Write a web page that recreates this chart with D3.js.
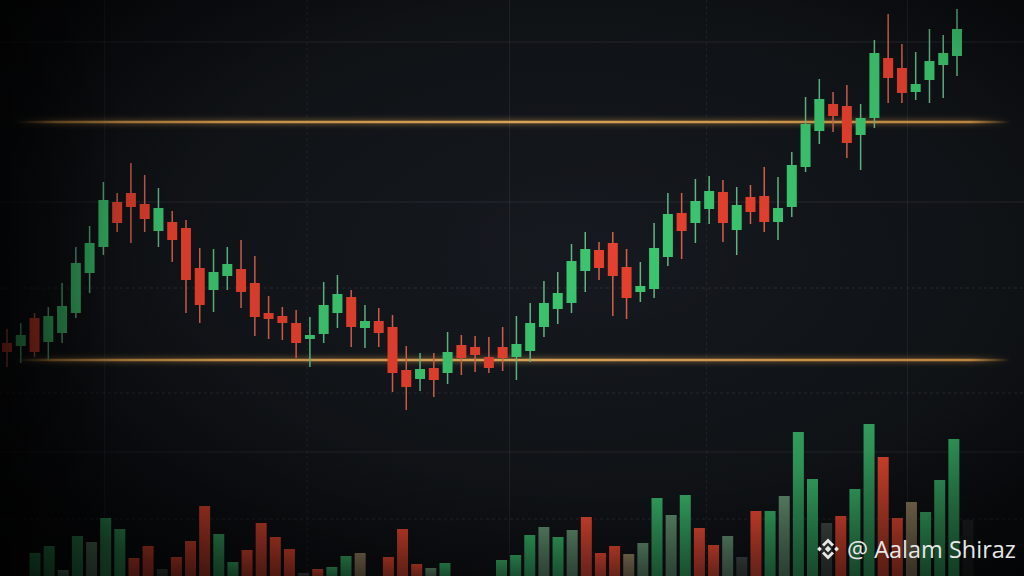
<!DOCTYPE html>
<html><head><meta charset="utf-8">
<script src="https://cdn.jsdelivr.net/npm/d3@7"></script>
<style>html,body{margin:0;padding:0;background:#0f1216;overflow:hidden}</style>
</head><body><svg id="c" width="1024" height="576"></svg>
<script>
// ---- DATA ----
const candleOpen  = [77,74,102,78,87,107,147,173,218,227,216,189,198,192,152,130,144,151,137,107,104,97,81,86,107,123,92,99,93,50,41,52,47,75,73,63,73,63,69,93,111,117,149,170,177,153,128,131,163,207,197,211,228,190,223,224,198,213,253,289,316,314,285,302,362,352,328,340,355,364];
const candleClose = [68,85,68,104,114,157,177,220,197,213,201,212,180,140,115,148,156,128,103,101,97,77,85,115,126,93,99,87,47,33,51,40,68,62,65,52,62,76,97,117,127,159,171,152,144,122,134,172,206,189,219,229,197,215,208,198,212,255,296,321,304,277,302,367,342,327,336,359,367,391];
const candleHigh  = [91,97,107,113,137,173,194,238,227,257,245,232,209,200,172,171,173,180,164,124,113,110,103,138,145,130,115,112,105,74,67,67,88,85,84,83,93,104,117,139,148,176,188,178,188,171,158,197,227,227,241,244,240,233,235,253,243,268,323,341,328,335,316,380,406,376,368,391,385,411];
const candleLow   = [53,57,63,60,77,102,127,165,188,177,188,173,158,107,97,108,130,112,84,81,80,62,53,77,92,73,72,73,28,10,29,23,36,45,48,47,49,40,58,83,96,107,128,140,104,101,118,122,154,161,177,196,178,165,196,188,180,203,248,276,288,262,250,292,317,317,320,317,322,344];

const volume     = [23,30,6,40,34,58,47,18,30,7,19,35,70,42,14,26,53,39,27,3,7,9,20,23,null,19,47,12,8,13,null,null,null,16,21,41,49,39,46,59,23,30,22,33,78,61,81,48,31,40,19,65,65,80,144,97,53,60,87,152,119,58,74,64,96,137,56];
const volumeTone = ["g","g","s","g","s","g","g","r","r","k","r","r","r","g","g","r","r","r","r","k","r","g","g","t",null,"r","r","r","s","g",null,null,null,"g","g","g","s","g","s","r","r","r","t","s","g","s","g","r","r","s","k","r","g","s","g","g","k","r","g","g","r","r","t","g","g","g","d"];

const levelPrices     = [298, 60];        // resistance / support
const gridPrices      = [378, 218];
const gridPricesDash  = [132, 27];
const gridVolumes     = [124];
const gridVolumesDash = [57];
const timeGrid        = [7.1, 21.8, 36.5, 50.8, 65.4];
const watermark = "@ Aalam Shiraz";

// ---- DRAW ----
const W = 1024, H = 576;
const svg = d3.select("#c");
const defs = svg.append("defs");

const bg = defs.append("radialGradient").attr("id","bg").attr("cx","0.55").attr("cy","0.45").attr("r","0.75");
bg.append("stop").attr("offset","0").attr("stop-color","#161a20");
bg.append("stop").attr("offset","0.6").attr("stop-color","#101317");
bg.append("stop").attr("offset","1").attr("stop-color","#07080a");
svg.append("rect").attr("width",W).attr("height",H).attr("fill","url(#bg)");

const x  = d3.scaleLinear().domain([0, candleOpen.length-1]).range([7, 957]);
const y  = d3.scaleLinear().domain([20, 420]).range([400, 0]);
const xv = d3.scaleLinear().domain([0, volume.length-1]).range([35, 968]);
const yv = d3.scaleLinear().domain([0, 160]).range([H, H-160]);

const grid = svg.append("g").attr("stroke","#c8d0dc").attr("fill","none");
grid.selectAll(".vg").data(timeGrid).join("line")
  .attr("x1",d=>x(d)).attr("x2",d=>x(d)).attr("y1",0).attr("y2",H)
  .attr("stroke-opacity",0.09).attr("stroke-dasharray",(d,i)=> i%2===1 ? "3,3" : null);
grid.selectAll(".hg").data(gridPrices).join("line")
  .attr("x1",0).attr("x2",W).attr("y1",d=>y(d)).attr("y2",d=>y(d)).attr("stroke-opacity",0.11);
grid.selectAll(".hgd").data(gridPricesDash).join("line")
  .attr("x1",0).attr("x2",W).attr("y1",d=>y(d)).attr("y2",d=>y(d)).attr("stroke-opacity",0.12).attr("stroke-dasharray","3,3");
grid.selectAll(".vgl").data(gridVolumes).join("line")
  .attr("x1",0).attr("x2",W).attr("y1",d=>yv(d)).attr("y2",d=>yv(d)).attr("stroke-opacity",0.10);
grid.selectAll(".vgd").data(gridVolumesDash).join("line")
  .attr("x1",0).attr("x2",W).attr("y1",d=>yv(d)).attr("y2",d=>yv(d)).attr("stroke-opacity",0.12).attr("stroke-dasharray","3,3");

// level lines with glow
const glow = defs.append("filter").attr("id","glow").attr("filterUnits","userSpaceOnUse")
  .attr("x",0).attr("y",0).attr("width",W).attr("height",H);
glow.append("feGaussianBlur").attr("stdDeviation","2.5");
const lvGrad = defs.append("linearGradient").attr("id","lv").attr("gradientUnits","userSpaceOnUse").attr("x1",15).attr("x2",1010).attr("y1",0).attr("y2",0);
[[0,"#d09445",0],[0.04,"#d09445",0.95],[0.5,"#e2a95a",1],[0.96,"#d09445",0.95],[1,"#d09445",0]].forEach(([o,c,a])=>lvGrad.append("stop").attr("offset",o).attr("stop-color",c).attr("stop-opacity",a));
const lv = svg.append("g");
lv.selectAll(".lg").data(levelPrices).join("line")
  .attr("x1",15).attr("x2",1010).attr("y1",d=>y(d)).attr("y2",d=>y(d))
  .attr("stroke","url(#lv)").attr("stroke-width",6).attr("stroke-opacity",0.35).attr("filter","url(#glow)");
lv.selectAll(".lc").data(levelPrices).join("line")
  .attr("x1",15).attr("x2",1010).attr("y1",d=>y(d)).attr("y2",d=>y(d))
  .attr("stroke","url(#lv)").attr("stroke-width",2.4);

// volume bars
const toneColor = {g:"#34a862", r:"#e0452f", s:"#5f8a6c", t:"#8c7b5c", k:"#3f4744", d:"#1c2220"};
Object.entries(toneColor).forEach(([k,c])=>{
  const g = defs.append("linearGradient").attr("id","vg"+k).attr("x1",0).attr("x2",0).attr("y1",0).attr("y2",1);
  g.append("stop").attr("offset",0).attr("stop-color",c).attr("stop-opacity",1);
  g.append("stop").attr("offset",1).attr("stop-color",c).attr("stop-opacity",0.7);
});
const vols = volume.map((v,i)=>({v, t:volumeTone[i], i})).filter(d=>d.v!=null);
svg.append("g").selectAll("rect").data(vols).join("rect")
  .attr("x",d=>xv(d.i)-5.5).attr("width",11)
  .attr("y",d=>yv(d.v)).attr("height",d=>yv(0)-yv(d.v))
  .attr("fill",d=>"url(#vg"+d.t+")");

// candles
const UP = "#3cc66f", DOWN = "#e6402e", UPW = "#62b985", DOWNW = "#d8604c";
const candles = candleOpen.map((o,i)=>({i,o,c:candleClose[i],h:candleHigh[i],l:candleLow[i]}));
const cg = svg.append("g").selectAll("g").data(candles).join("g");
cg.append("line")
  .attr("x1",d=>x(d.i)).attr("x2",d=>x(d.i))
  .attr("y1",d=>y(d.h)).attr("y2",d=>y(d.l))
  .attr("stroke",d=>d.c>=d.o?UPW:DOWNW).attr("stroke-width",1.5);
cg.append("rect")
  .attr("x",d=>x(d.i)-5).attr("width",10)
  .attr("y",d=>y(Math.max(d.o,d.c)))
  .attr("height",d=>Math.max(2, Math.abs(y(d.o)-y(d.c))))
  .attr("fill",d=>d.c>=d.o?UP:DOWN);

// vignette
const vig = defs.append("radialGradient").attr("id","vig").attr("cx","0.6").attr("cy","0.42").attr("r","0.72");
vig.append("stop").attr("offset","0").attr("stop-color","#000").attr("stop-opacity",0);
vig.append("stop").attr("offset","0.6").attr("stop-color","#000").attr("stop-opacity",0.08);
vig.append("stop").attr("offset","1").attr("stop-color","#000").attr("stop-opacity",0.6);
svg.append("rect").attr("width",W).attr("height",H).attr("fill","url(#vig)");
const lf = defs.append("linearGradient").attr("id","lf").attr("x1",0).attr("x2",1);
lf.append("stop").attr("offset",0).attr("stop-color","#000").attr("stop-opacity",0.55);
lf.append("stop").attr("offset",0.12).attr("stop-color","#000").attr("stop-opacity",0);
svg.append("rect").attr("width",W).attr("height",H).attr("fill","url(#lf)");

// watermark
const wm = svg.append("g").attr("fill","#e8e8e8");
const lg = wm.append("g").attr("transform","translate(828,549)");
const dm = (cx,cy,s)=>`M${cx},${cy-s}L${cx+s},${cy}L${cx},${cy+s}L${cx-s},${cy}Z`;
lg.append("path").attr("d",dm(0,0,3.2));
lg.append("path").attr("d",dm(-8.5,0,2.4));
lg.append("path").attr("d",dm(8.5,0,2.4));
lg.append("path").attr("d","M-6,-4.5L0,-10.5L6,-4.5L4,-2.5L0,-6.5L-4,-2.5Z");
lg.append("path").attr("d","M-6,4.5L0,10.5L6,4.5L4,2.5L0,6.5L-4,2.5Z");
wm.append("text").attr("x",847).attr("y",558).attr("font-family","'Open Sans', 'Noto Sans', sans-serif")
  .attr("font-size",23.5).text(watermark);
</script></body></html>
